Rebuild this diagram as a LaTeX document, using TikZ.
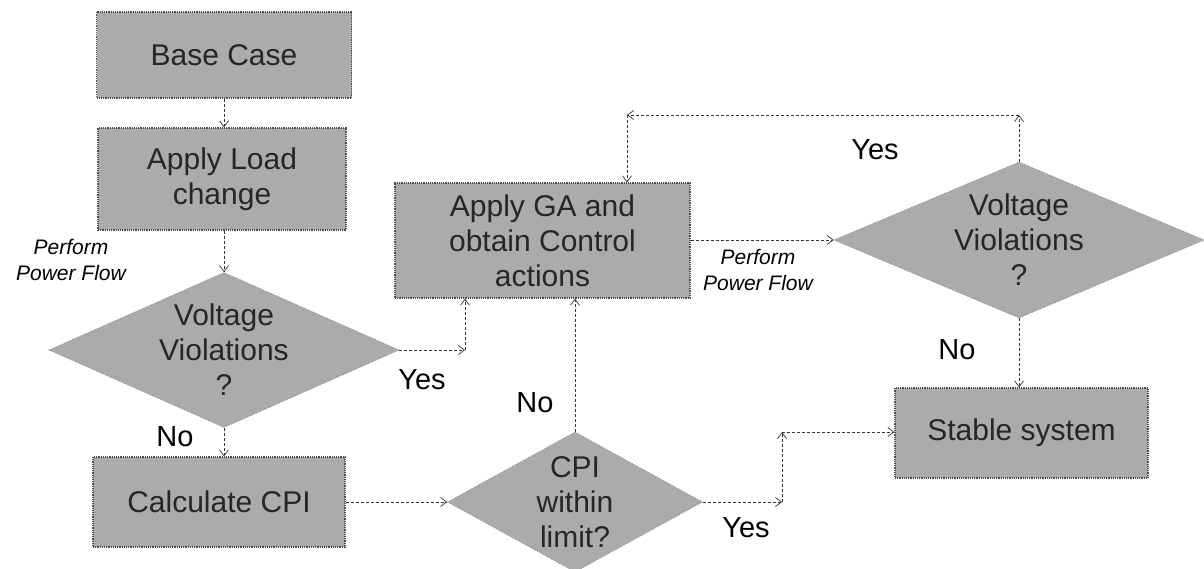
\documentclass[tikz,border=0pt]{standalone}
\usepackage{fontspec}
\setmainfont{Liberation Sans}
\usetikzlibrary{shapes.geometric,arrows.meta}
\tikzset{
  boxnode/.style={rectangle, fill=black!33, draw=black!70, densely dotted, line width=1.2pt,
    align=center, inner sep=0pt, font=\fontsize{30}{35}\selectfont, text=black!85},
  decnode/.style={diamond, fill=black!33, draw=black!45, densely dotted, line width=0.8pt,
    inner sep=0pt, aspect=2.3},
  dectext/.style={align=center, font=\fontsize{30}{35}\selectfont, text=black!85, inner sep=0pt},
  conn/.style={draw=black!80, densely dashed, line width=0.7pt,
    -{Straight Barb[length=6pt,width=9pt]}},
  lbl/.style={font=\fontsize{29}{32}\selectfont, inner sep=0pt},
  pflbl/.style={font=\fontsize{21}{26}\selectfont\itshape, align=center, inner sep=0pt}
}
\begin{document}
\begin{tikzpicture}[x=1pt,y=-1pt]
\useasboundingbox (0,0) rectangle (1204,569);
% nodes
\node[boxnode, minimum width=255pt, minimum height=86pt] (base) at (224,55) {Base Case};
\node[boxnode, minimum width=248pt, minimum height=102pt] (load) at (222,179) {Apply Load\\change};
\node[decnode, minimum width=350pt, minimum height=155pt,
  label={[dectext]center:Voltage\\Violations\\?}] (vv1) at (224,350) {};
\node[boxnode, minimum width=252pt, minimum height=90pt] (calc) at (219,502) {Calculate CPI};
\node[decnode, minimum width=255pt, minimum height=140pt,
  label={[dectext]center:CPI\\within\\limit?}] (cpi) at (575,502) {};
\node[boxnode, minimum width=295pt, minimum height=115pt] (ga) at (542.5,240.5) {Apply GA and\\obtain Control\\actions};
\node[decnode, minimum width=370pt, minimum height=156pt,
  label={[dectext]center:Voltage\\Violations\\?}] (vv2) at (1019,240) {};
\node[boxnode, minimum width=253pt, minimum height=90pt] (stable) at (1021.5,433) {Stable system};
% helper coordinates
\coordinate (c1) at (465,350);
\coordinate (c2) at (1019,115);
\coordinate (c3) at (627,115);
\coordinate (c4) at (782,502);
\coordinate (c5) at (782,432);
% connectors
\draw[conn] (base.south) -- (base.south |- load.north);
\draw[conn] (load.south -| vv1.north) -- (vv1.north);
\draw[conn] (vv1.south) -- (vv1.south |- calc.north);
\draw[conn] (vv1.east) -- (c1);
\draw[conn] (c1) -- (c1 |- ga.south);
\draw[conn] (calc.east |- cpi.west) -- (cpi.west);
\draw[conn] (cpi.north) -- (cpi.north |- ga.south);
\draw[conn] (ga.east |- vv2.west) -- (vv2.west);
\draw[conn] (vv2.north) -- (c2);
\draw[conn] (c2) -- (c3);
\draw[conn] (c3) -- (c3 |- ga.north);
\draw[conn] (vv2.south) -- (vv2.south |- stable.north);
\draw[conn] (cpi.east) -- (c4);
\draw[conn] (c4) -- (c5);
\draw[conn] (c5) -- (c5 -| stable.west);
% labels
\node[pflbl] (pf1) at (71,260) {Perform\\Power Flow};
\node[pflbl] (pf2) at (758,270) {Perform\\Power Flow};
\node[lbl] (no1) at (175,437) {No};
\node[lbl] (yes1) at (422,380) {Yes};
\node[lbl] (no2) at (535,403) {No};
\node[lbl] (yes2) at (875,150) {Yes};
\node[lbl] (no3) at (957,350) {No};
\node[lbl] (yes3) at (746,528) {Yes};
\end{tikzpicture}
\end{document}
